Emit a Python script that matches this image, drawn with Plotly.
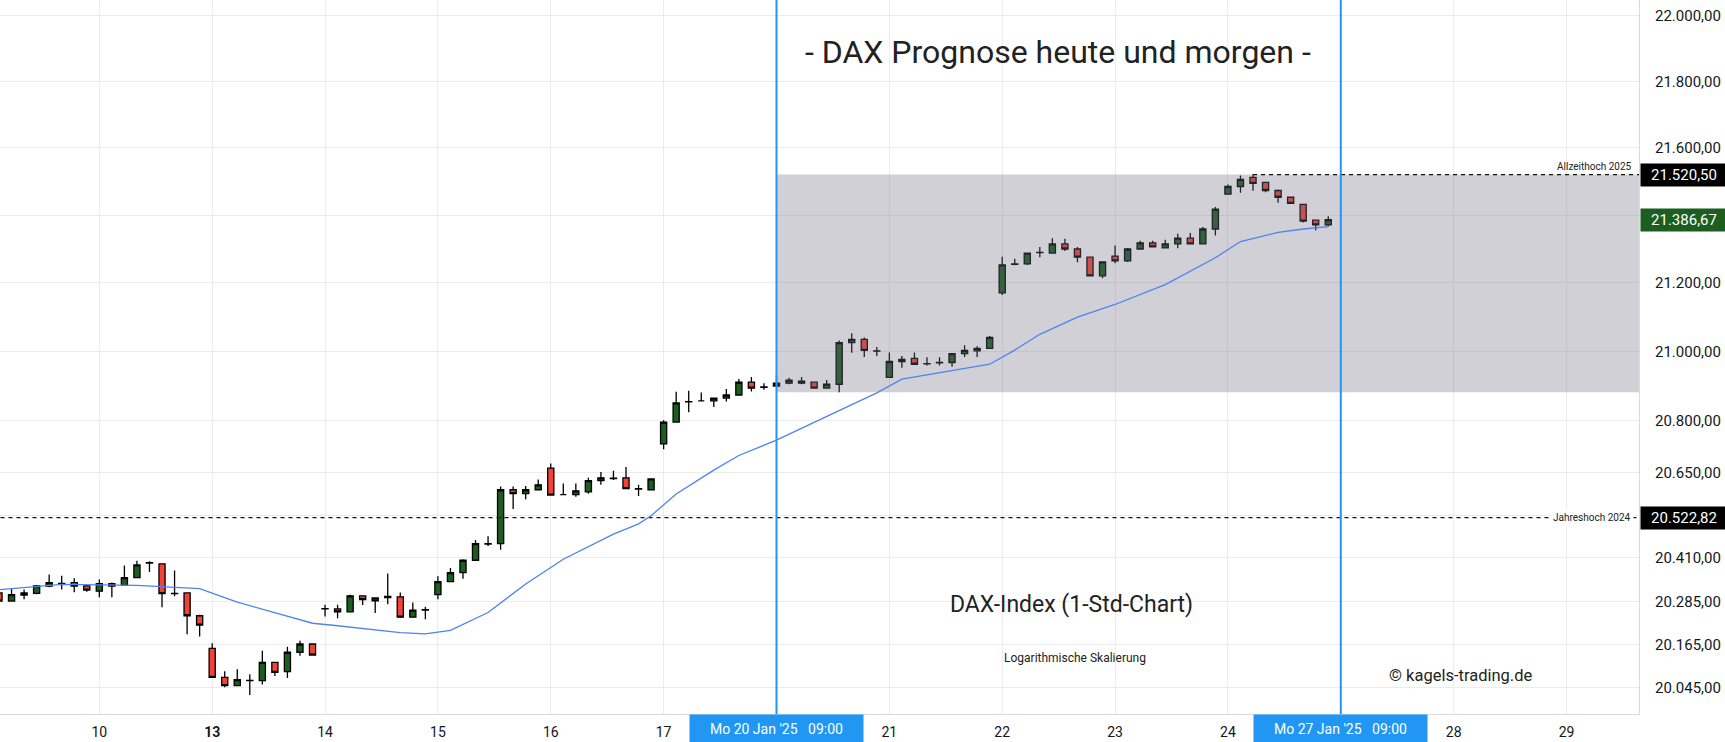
import math
import plotly.graph_objects as go

# ---------------- data ----------------
# bar position: hourly DAX bars (09:00..17:00, 9 per trading day); 0 = Fri 10 Jan 2025 09:00
bar_pos = list(range(-8, 99))

opens = [20310, 20287, 20304, 20309, 20329, 20337, 20339, 20330,
         20315, 20336, 20332, 20353, 20395, 20392, 20309, 20310, 20246,
         20155, 20074, 20051, 20066, 20065, 20116, 20090, 20144, 20167,
         20266, 20265, 20257, 20302, 20288, 20297, 20299, 20242, 20263,
         20305, 20342, 20367, 20402, 20449, 20449, 20602, 20591, 20602,
         20664, 20588, 20588, 20596, 20628, 20635, 20636, 20605, 20602,
         20733, 20796, 20855, 20857, 20857, 20865, 20874, 20911, 20897,
         20900, 20908, 20914, 20911, 20894, 20905, 21026, 21035, 21002,
         20925, 20971, 20980, 20965, 20968, 20968, 20994, 21002, 21009,
         21171, 21256, 21256, 21290, 21288, 21315, 21300, 21276, 21221,
         21279, 21265, 21300, 21318, 21303, 21315, 21332, 21315, 21359,
         21462, 21485, 21512, 21497, 21473, 21453, 21432, 21385, 21371]
highs = [20313, 20322, 20320, 20332, 20362, 20358, 20351, 20332,
         20348, 20339, 20387, 20401, 20399, 20392, 20373, 20310, 20249,
         20169, 20091, 20097, 20083, 20148, 20116, 20159, 20176, 20169,
         20277, 20277, 20305, 20302, 20296, 20365, 20311, 20283, 20271,
         20357, 20380, 20405, 20459, 20470, 20611, 20611, 20613, 20631,
         20677, 20620, 20620, 20636, 20653, 20656, 20667, 20616, 20633,
         20801, 20883, 20886, 20881, 20865, 20891, 20920, 20926, 20908,
         20932, 20924, 20926, 20911, 20917, 21032, 21053, 21041, 21013,
         20997, 20987, 20997, 20983, 20983, 20994, 21018, 21015, 21045,
         21277, 21271, 21288, 21306, 21332, 21330, 21306, 21276, 21262,
         21310, 21303, 21324, 21324, 21327, 21345, 21347, 21365, 21424,
         21491, 21518, 21520.5, 21497, 21476, 21453, 21432, 21385, 21397]
lows = [20284, 20286, 20292, 20306, 20326, 20320, 20312, 20313,
        20298, 20298, 20331, 20352, 20369, 20270, 20301, 20194, 20188,
        20073, 20047, 20050, 20025, 20054, 20078, 20072, 20134, 20136,
        20244, 20239, 20257, 20276, 20254, 20278, 20240, 20242, 20236,
        20292, 20342, 20350, 20402, 20442, 20432, 20547, 20575, 20602,
        20587, 20587, 20582, 20591, 20616, 20630, 20605, 20584, 20602,
        20718, 20796, 20824, 20857, 20839, 20855, 20874, 20884, 20889,
        20900, 20905, 20905, 20894, 20894, 20882, 20996, 20984, 20987,
        20925, 20953, 20963, 20959, 20959, 20956, 20984, 20984, 21009,
        21165, 21252, 21253, 21276, 21288, 21294, 21261, 21221, 21214,
        21258, 21262, 21300, 21306, 21303, 21302, 21315, 21315, 21340,
        21462, 21466, 21472, 21468, 21437, 21435, 21378, 21355, 21366]
closes = [20287, 20305, 20310, 20330, 20339, 20336, 20329, 20318,
          20336, 20329, 20353, 20389, 20394, 20308, 20308, 20246, 20220,
          20074, 20051, 20068, 20065, 20116, 20088, 20144, 20167, 20136,
          20265, 20257, 20302, 20291, 20296, 20300, 20242, 20262, 20262,
          20342, 20367, 20402, 20449, 20448, 20602, 20591, 20602, 20616,
          20587, 20588, 20599, 20628, 20636, 20634, 20605, 20604, 20633,
          20796, 20851, 20854, 20857, 20865, 20874, 20911, 20894, 20896,
          20908, 20917, 20908, 20894, 20905, 21026, 21035, 21003, 21001,
          20971, 20977, 20963, 20964, 20967, 20994, 21003, 21009, 21041,
          21253, 21255, 21288, 21289, 21315, 21300, 21276, 21221, 21262,
          21265, 21300, 21318, 21306, 21315, 21332, 21315, 21359, 21418,
          21485, 21506, 21494, 21473, 21453, 21435, 21382, 21371, 21386.67]

# moving average (blue line), read at bar positions
ma_pos = [-8, -4, -3, 3, 8, 11, 14, 17, 19, 24, 26, 28, 31, 34, 37, 41, 43, 44,
          46, 49, 51, 54, 57, 62, 64, 71, 73, 75, 78, 81, 85, 89, 91, 94, 96, 98]
ma_val = [20319, 20330, 20334, 20331, 20322, 20284, 20254, 20225, 20218, 20199,
          20195, 20205, 20255, 20335, 20405, 20476, 20505, 20528, 20590, 20658,
          20700, 20744, 20795, 20880, 20920, 20963, 21004, 21050, 21100, 21137,
          21195, 21274, 21322, 21349, 21359, 21366]

# x-axis: trading days (position of 09:00 bar) and labels
day_pos = [0, 9, 18, 27, 36, 45, 54, 63, 72, 81, 90, 99, 108, 117]
day_labels = ["10", "<b>13</b>", "14", "15", "16", "17", "", "21", "22", "23", "24", "", "28", "29"]

# y-axis ticks (log scale)
y_ticks = [20045, 20165, 20285, 20410, 20530, 20650, 20800, 21000, 21200, 21400, 21600, 21800, 22000]
y_hidden = [20530, 21400]  # covered by price badges

ath_2025 = 21520.50
yh_2024 = 20522.82
last_close = 21386.67
box_low = 20882
box_start = 54       # Mo 20 Jan '25 09:00
marker_end = 99      # Mo 27 Jan '25 09:00
ath_start = 92

x_range = [-7.92, 122.78]
y_range = [19972.6, 22046.6]


def de(v):
    return f"{v:,.2f}".replace(",", "X").replace(".", ",").replace("X", ".")


FONT = "Roboto, 'Noto Sans', sans-serif"
TXT = "#131722"

fig = go.Figure()

# shaded range box (20 Jan -> right edge)
fig.add_trace(go.Scatter(
    x=[box_start, 200, 200, box_start, box_start],
    y=[box_low, box_low, ath_2025, ath_2025, box_low],
    fill="toself", fillcolor="rgba(108,108,128,0.32)",
    line=dict(width=0), mode="lines", hoverinfo="skip", showlegend=False))

# dashed horizontal lines
fig.add_trace(go.Scatter(x=[-20, 200], y=[yh_2024, yh_2024], mode="lines",
                         line=dict(color="#111", width=1.2, dash="4px,4px"),
                         hoverinfo="skip", showlegend=False))
fig.add_trace(go.Scatter(x=[ath_start, 200], y=[ath_2025, ath_2025], mode="lines",
                         line=dict(color="#111", width=1.2, dash="4px,4px"),
                         hoverinfo="skip", showlegend=False))

# moving average
fig.add_trace(go.Scatter(x=ma_pos, y=ma_val, mode="lines",
                         line=dict(color="#4f83f0", width=1.3),
                         hoverinfo="skip", showlegend=False))

# candles
fig.add_trace(go.Candlestick(
    x=bar_pos, open=opens, high=highs, low=lows, close=closes,
    increasing=dict(fillcolor="#1b5e20", line=dict(color="#000", width=1.3)),
    decreasing=dict(fillcolor="#f44336", line=dict(color="#000", width=1.3)),
    whiskerwidth=0, showlegend=False))

# vertical blue markers
for xv in (box_start, marker_end):
    fig.add_shape(type="line", x0=xv, x1=xv, y0=0, y1=1, xref="x", yref="paper",
                  line=dict(color="#2196f3", width=2), layer="above")

ann = []
# texts
def txt(text, x, y, size):
    return dict(text=text, x=x, y=y, xref="paper", yref="paper", xanchor="center", yanchor="middle",
                showarrow=False, font=dict(family=FONT, size=size, color="#222"))

ann.append(txt("- DAX Prognose heute und morgen -", 0.6455, 0.927, 32))
ann.append(txt("DAX-Index (1-Std-Chart)", 0.6535, 0.154, 23))
ann.append(txt("Logarithmische Skalierung", 0.6559, 0.0784, 12))
ann.append(txt("© kagels-trading.de", 0.8908, 0.0546, 16.5))
ann.append(dict(text="Allzeithoch 2025", x=0.997, y=math.log10(ath_2025), xref="paper", yref="y",
                xanchor="right", yanchor="bottom", yshift=1, showarrow=False,
                font=dict(family=FONT, size=10, color="#222")))
ann.append(dict(text="Jahreshoch 2024", x=0.997, y=math.log10(yh_2024), xref="paper", yref="y",
                xanchor="right", yanchor="middle", showarrow=False, bgcolor="white", borderpad=2,
                font=dict(family=FONT, size=10, color="#222")))
# price badges on the right axis
for val, bg in ((ath_2025, "#000000"), (last_close, "#1b5e20"), (yh_2024, "#000000")):
    ann.append(dict(text=de(val), x=1, xref="paper", xanchor="left", xshift=1,
                    y=math.log10(val), yref="y", yanchor="middle",
                    width=84, height=20, align="center", bgcolor=bg, showarrow=False,
                    font=dict(family=FONT, size=15, color="white")))
# date badges on the x-axis
for xv, lab in ((box_start, "Mo 20 Jan '25\u00a0\u00a0\u00a009:00"), (marker_end, "Mo 27 Jan '25\u00a0\u00a0\u00a009:00")):
    ann.append(dict(text=lab, x=xv, xref="x", y=0, yref="paper", yanchor="top",
                    width=171, height=26, align="center", bgcolor="#2196f3", showarrow=False,
                    font=dict(family=FONT, size=14, color="white")))

fig.update_layout(
    width=1725, height=742,
    margin=dict(l=0, r=86, t=0, b=28, pad=0),
    paper_bgcolor="white", plot_bgcolor="white",
    showlegend=False, annotations=ann, hovermode=False,
    xaxis=dict(range=x_range, tickmode="array", tickvals=day_pos, ticktext=day_labels,
               showgrid=True, gridcolor="#ececef", gridwidth=1, zeroline=False,
               showline=True, linecolor="#d9d9de", linewidth=1, ticks="",
               tickfont=dict(family=FONT, size=14, color=TXT), ticklabelstandoff=5,
               rangeslider=dict(visible=False), fixedrange=True),
    yaxis=dict(type="log", side="right", range=[math.log10(y_range[0]), math.log10(y_range[1])],
               tickmode="array", tickvals=y_ticks,
               ticktext=["" if v in y_hidden else de(v) for v in y_ticks],
               showgrid=True, gridcolor="#ececef", gridwidth=1, zeroline=False,
               showline=True, linecolor="#d9d9de", linewidth=1, ticks="",
               tickfont=dict(family=FONT, size=15, color=TXT), ticklabelstandoff=12,
               fixedrange=True),
)

fig.write_html("out.html", config={"displayModeBar": False},
               post_script="document.body.style.margin='0';")
